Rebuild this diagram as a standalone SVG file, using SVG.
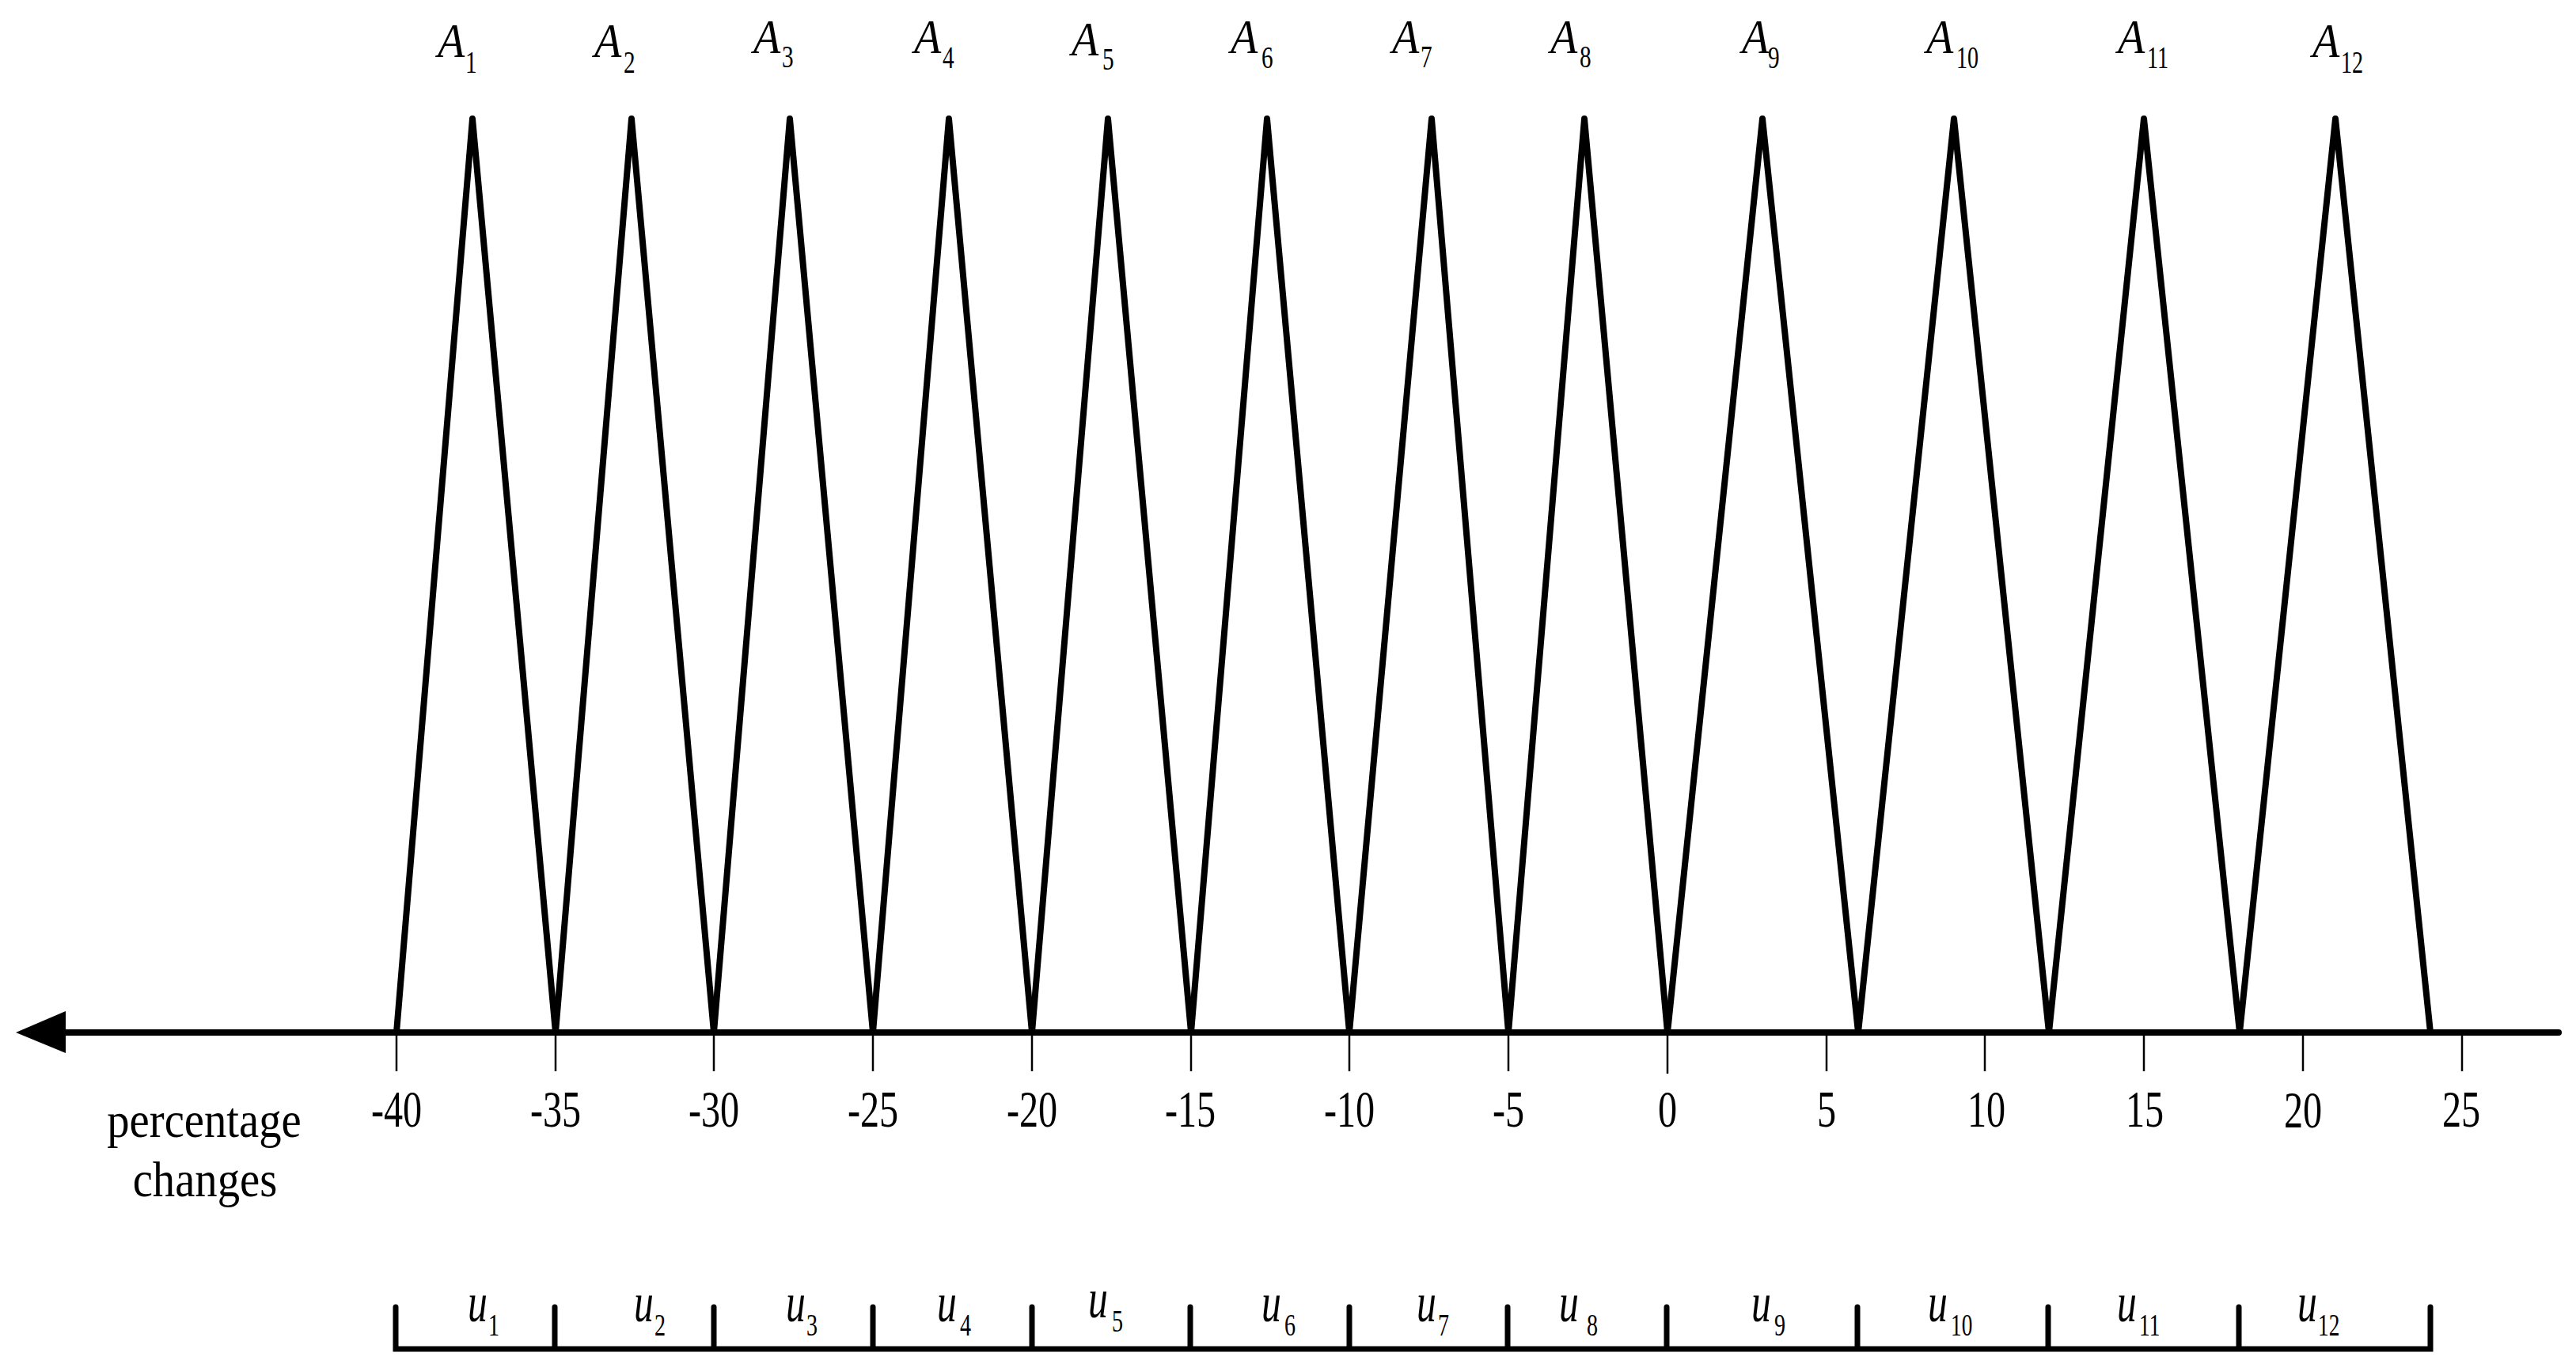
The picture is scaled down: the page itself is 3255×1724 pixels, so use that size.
<svg xmlns="http://www.w3.org/2000/svg" width="3255" height="1724" viewBox="0 0 3255 1724">
<style>
text{font-family:"Liberation Serif","Times New Roman",serif;fill:#000}
.tri{fill:none;stroke:#000;stroke-width:8;stroke-linejoin:round;stroke-linecap:round}
.axis{stroke:#000;stroke-width:8;stroke-linecap:round;fill:none}
.tick{stroke:#000;stroke-width:2.5}
.brk{fill:none;stroke:#000;stroke-width:7;stroke-linecap:round;stroke-linejoin:miter}
.A{font-size:61px;font-style:italic}
.sub{font-size:39px}
.u{font-size:69px;font-style:italic}
.num{font-size:66px;text-anchor:middle}
.cap{font-size:63px;text-anchor:middle}
</style>
<rect width="3255" height="1724" fill="#fff"/>
<g id="sets">
<g id="A1"><polyline class="tri" points="501,1305 597,150 702,1305"/><text class="A" transform="translate(553,72) scale(0.92,1)">A</text><text class="sub" transform="translate(588,92) scale(0.75,1)">1</text></g>
<g id="A2"><polyline class="tri" points="702,1305 798,150 902,1305"/><text class="A" transform="translate(751,72) scale(0.92,1)">A</text><text class="sub" transform="translate(788,92) scale(0.75,1)">2</text></g>
<g id="A3"><polyline class="tri" points="902,1305 998,150 1103,1305"/><text class="A" transform="translate(952,67) scale(0.92,1)">A</text><text class="sub" transform="translate(988,85) scale(0.75,1)">3</text></g>
<g id="A4"><polyline class="tri" points="1103,1305 1199,150 1304,1305"/><text class="A" transform="translate(1155,67) scale(0.92,1)">A</text><text class="sub" transform="translate(1191,86) scale(0.75,1)">4</text></g>
<g id="A5"><polyline class="tri" points="1304,1305 1400,150 1505,1305"/><text class="A" transform="translate(1354,70) scale(0.92,1)">A</text><text class="sub" transform="translate(1393,88) scale(0.75,1)">5</text></g>
<g id="A6"><polyline class="tri" points="1505,1305 1601,150 1705,1305"/><text class="A" transform="translate(1555,67) scale(0.92,1)">A</text><text class="sub" transform="translate(1594,86) scale(0.75,1)">6</text></g>
<g id="A7"><polyline class="tri" points="1705,1305 1809,150 1906,1305"/><text class="A" transform="translate(1759,67) scale(0.92,1)">A</text><text class="sub" transform="translate(1795,85) scale(0.75,1)">7</text></g>
<g id="A8"><polyline class="tri" points="1906,1305 2002,150 2107,1305"/><text class="A" transform="translate(1959,67) scale(0.92,1)">A</text><text class="sub" transform="translate(1996,85) scale(0.75,1)">8</text></g>
<g id="A9"><polyline class="tri" points="2107,1305 2227,150 2348,1305"/><text class="A" transform="translate(2201,67) scale(0.92,1)">A</text><text class="sub" transform="translate(2234,86) scale(0.75,1)">9</text></g>
<g id="A10"><polyline class="tri" points="2348,1305 2469,150 2589,1305"/><text class="A" transform="translate(2434,67) scale(0.92,1)">A</text><text class="sub" transform="translate(2472,86) scale(0.72,1)">10</text></g>
<g id="A11"><polyline class="tri" points="2589,1305 2709,150 2830,1305"/><text class="A" transform="translate(2676,67) scale(0.92,1)">A</text><text class="sub" transform="translate(2713,86) scale(0.72,1)">11</text></g>
<g id="A12"><polyline class="tri" points="2830,1305 2951,150 3071,1305"/><text class="A" transform="translate(2922,72) scale(0.92,1)">A</text><text class="sub" transform="translate(2958,92) scale(0.72,1)">12</text></g>
</g>
<g id="axis">
<line class="axis" x1="80" y1="1305" x2="3233" y2="1305"/>
<polygon points="20,1305 83,1278 83,1331" fill="#000"/>
<g class="tick">
<line x1="501" y1="1305" x2="501" y2="1354"/>
<line x1="702" y1="1305" x2="702" y2="1354"/>
<line x1="902" y1="1305" x2="902" y2="1354"/>
<line x1="1103" y1="1305" x2="1103" y2="1354"/>
<line x1="1304" y1="1305" x2="1304" y2="1354"/>
<line x1="1505" y1="1305" x2="1505" y2="1354"/>
<line x1="1705" y1="1305" x2="1705" y2="1354"/>
<line x1="1906" y1="1305" x2="1906" y2="1354"/>
<line x1="2107" y1="1305" x2="2107" y2="1357"/>
<line x1="2308" y1="1305" x2="2308" y2="1354"/>
<line x1="2508" y1="1305" x2="2508" y2="1354"/>
<line x1="2709" y1="1305" x2="2709" y2="1354"/>
<line x1="2910" y1="1305" x2="2910" y2="1354"/>
<line x1="3111" y1="1305" x2="3111" y2="1354"/>
</g>
<text class="num" transform="translate(501,1424) scale(0.73,1)">-40</text>
<text class="num" transform="translate(702,1424) scale(0.73,1)">-35</text>
<text class="num" transform="translate(902,1424) scale(0.73,1)">-30</text>
<text class="num" transform="translate(1103,1424) scale(0.73,1)">-25</text>
<text class="num" transform="translate(1304,1424) scale(0.73,1)">-20</text>
<text class="num" transform="translate(1504,1424) scale(0.73,1)">-15</text>
<text class="num" transform="translate(1705,1424) scale(0.73,1)">-10</text>
<text class="num" transform="translate(1906,1424) scale(0.73,1)">-5</text>
<text class="num" transform="translate(2107,1424) scale(0.73,1)">0</text>
<text class="num" transform="translate(2308,1424) scale(0.73,1)">5</text>
<text class="num" transform="translate(2510,1424) scale(0.73,1)">10</text>
<text class="num" transform="translate(2710,1424) scale(0.73,1)">15</text>
<text class="num" transform="translate(2910,1425) scale(0.73,1)">20</text>
<text class="num" transform="translate(3110,1424) scale(0.73,1)">25</text>
<text class="cap" transform="translate(258,1437) scale(0.9,1)">percentage</text>
<text class="cap" transform="translate(259,1512) scale(0.9,1)">changes</text>
</g>
<g id="intervals">
<path class="brk" d="M500,1652 V1705 H3071 V1652 M701,1652 V1705 M902,1652 V1705 M1103,1652 V1705 M1304,1652 V1705 M1504,1652 V1705 M1705,1652 V1705 M1905,1652 V1705 M2106,1652 V1705 M2347,1652 V1705 M2588,1652 V1705 M2829,1652 V1705"/>
<text class="u" transform="translate(591,1670) scale(0.72,1)">u</text><text class="sub" transform="translate(617,1688) scale(0.72,1)">1</text>
<text class="u" transform="translate(801,1670) scale(0.72,1)">u</text><text class="sub" transform="translate(827,1688) scale(0.72,1)">2</text>
<text class="u" transform="translate(993,1670) scale(0.72,1)">u</text><text class="sub" transform="translate(1019,1688) scale(0.72,1)">3</text>
<text class="u" transform="translate(1184,1670) scale(0.72,1)">u</text><text class="sub" transform="translate(1213,1688) scale(0.72,1)">4</text>
<text class="u" transform="translate(1375,1665) scale(0.72,1)">u</text><text class="sub" transform="translate(1405,1683) scale(0.72,1)">5</text>
<text class="u" transform="translate(1594,1670) scale(0.72,1)">u</text><text class="sub" transform="translate(1623,1688) scale(0.72,1)">6</text>
<text class="u" transform="translate(1790,1670) scale(0.72,1)">u</text><text class="sub" transform="translate(1817,1688) scale(0.72,1)">7</text>
<text class="u" transform="translate(1970,1670) scale(0.72,1)">u</text><text class="sub" transform="translate(2005,1688) scale(0.72,1)">8</text>
<text class="u" transform="translate(2213,1670) scale(0.72,1)">u</text><text class="sub" transform="translate(2242,1688) scale(0.72,1)">9</text>
<text class="u" transform="translate(2436,1670) scale(0.72,1)">u</text><text class="sub" transform="translate(2465,1688) scale(0.7,1)">10</text>
<text class="u" transform="translate(2675,1670) scale(0.72,1)">u</text><text class="sub" transform="translate(2703,1688) scale(0.7,1)">11</text>
<text class="u" transform="translate(2903,1670) scale(0.72,1)">u</text><text class="sub" transform="translate(2929,1688) scale(0.7,1)">12</text>
</g>
</svg>
